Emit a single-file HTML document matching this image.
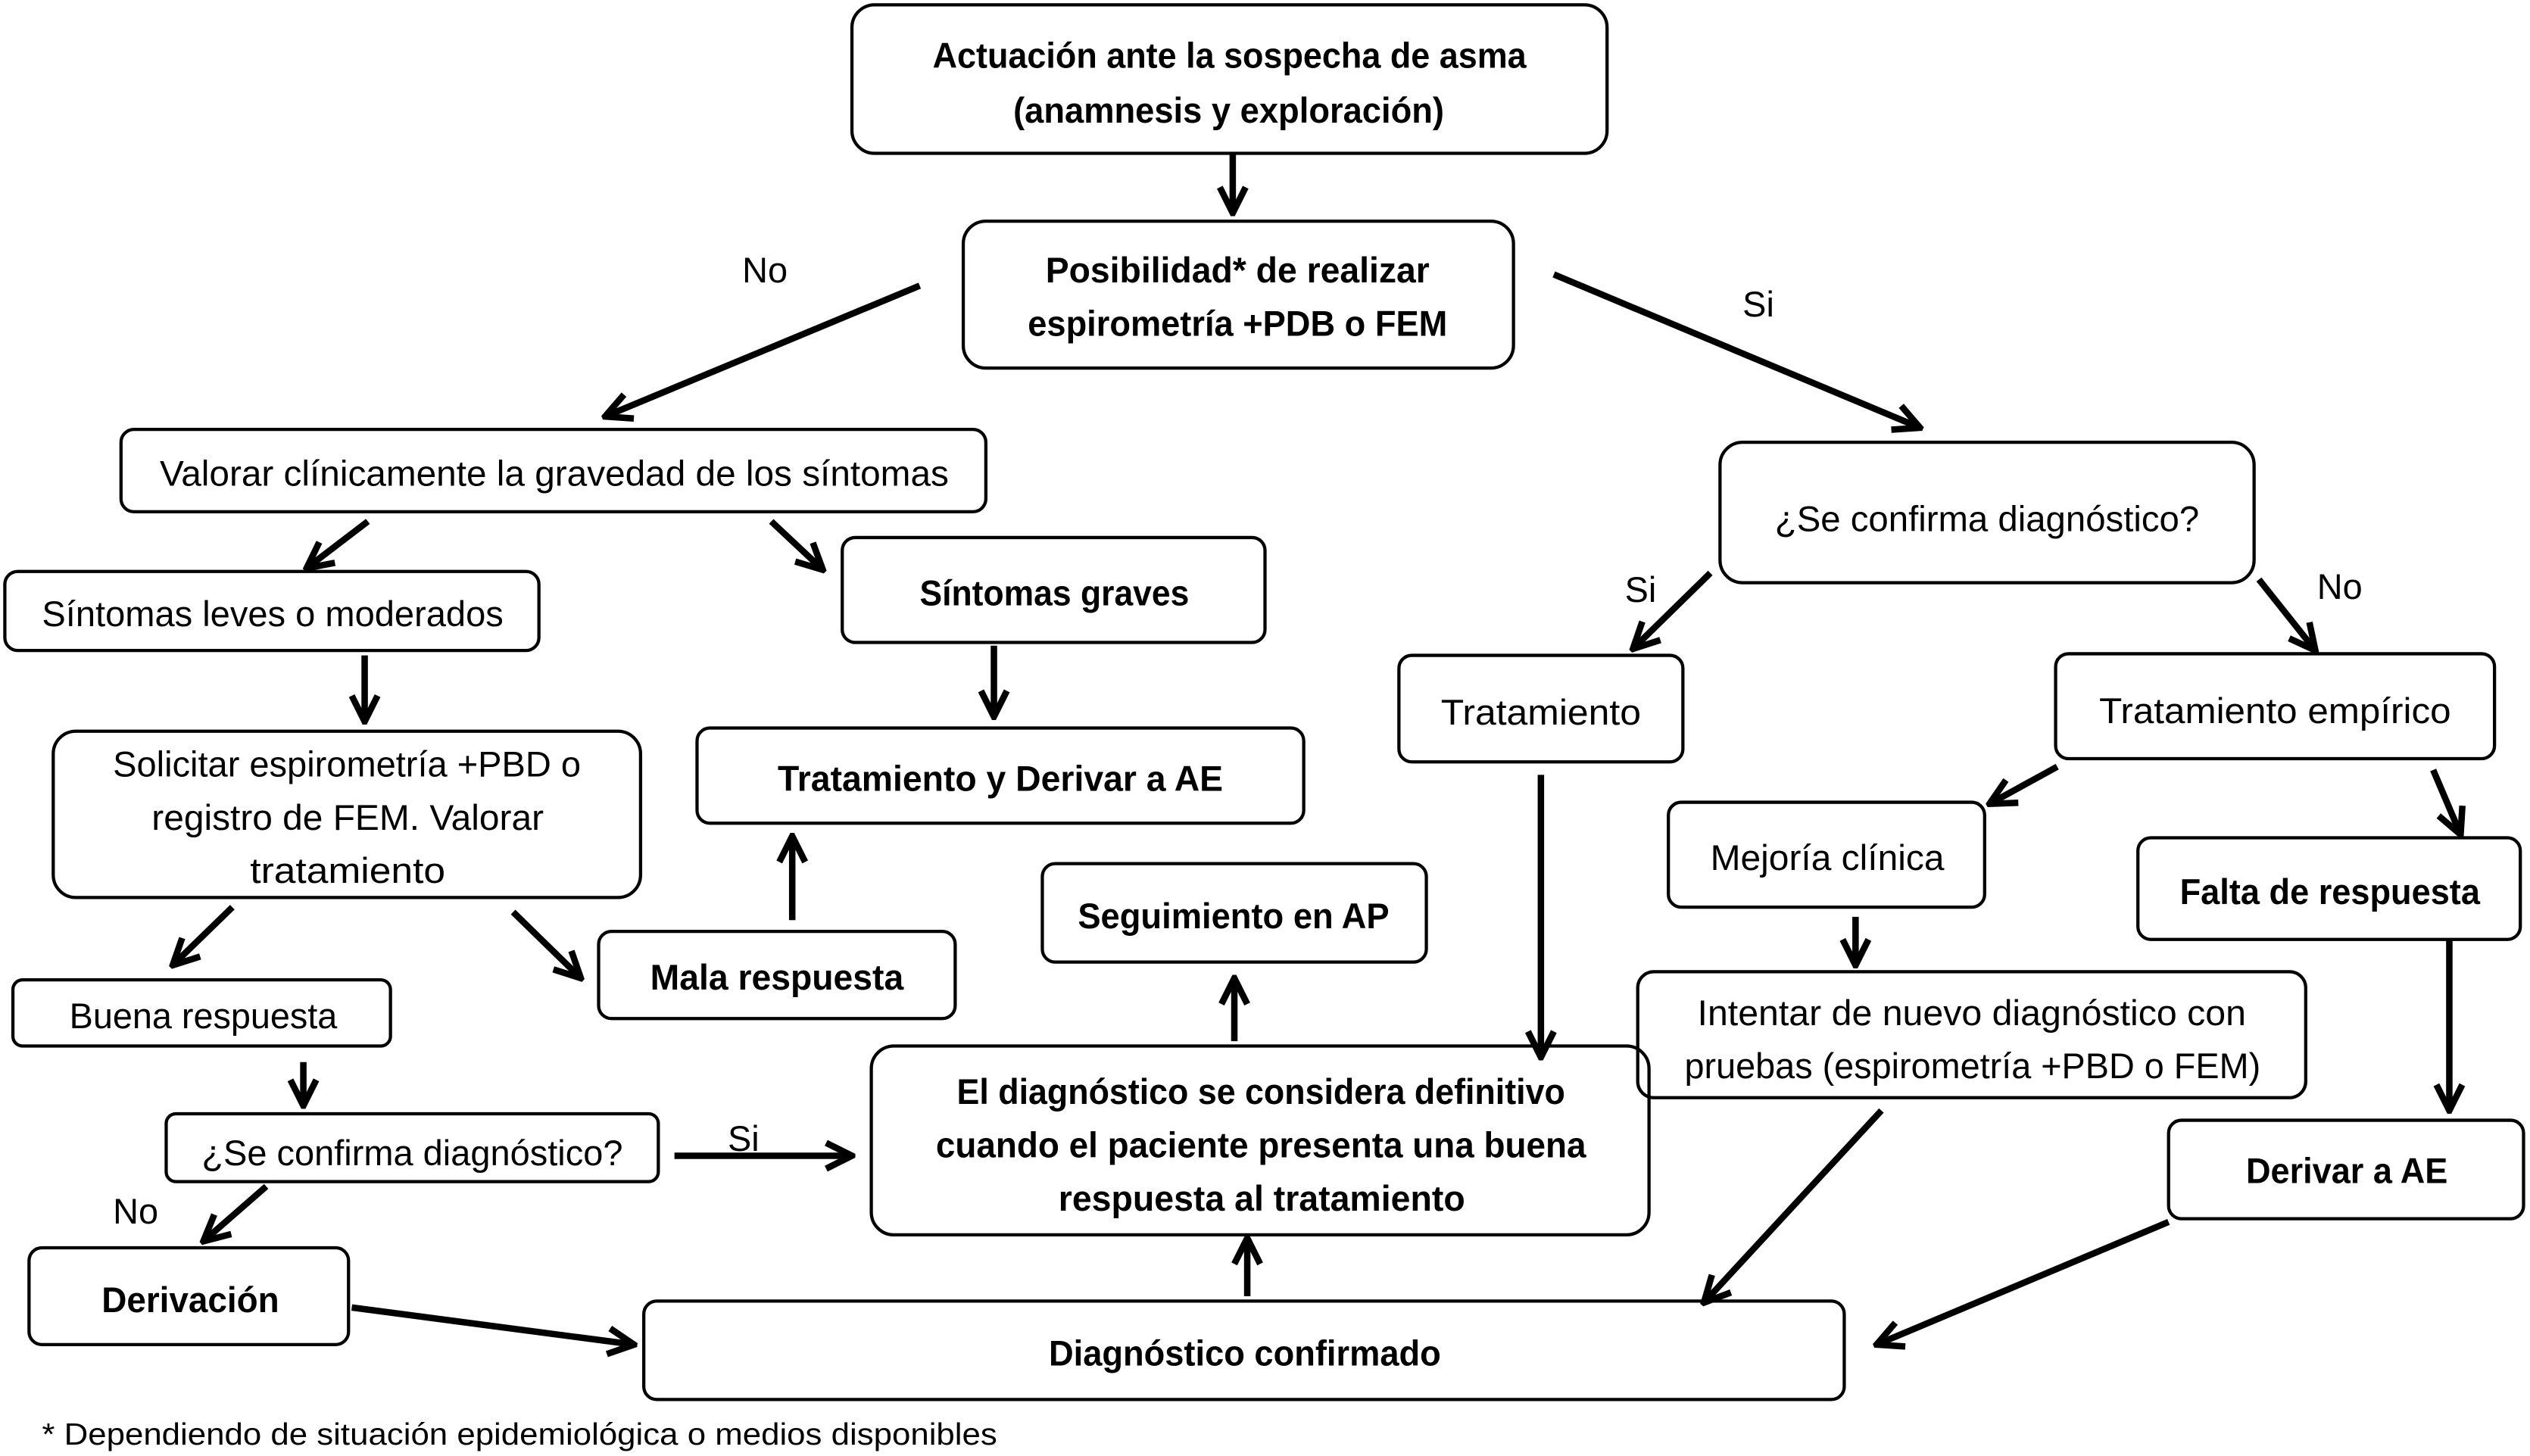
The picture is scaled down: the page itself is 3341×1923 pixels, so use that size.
<!DOCTYPE html>
<html><head><meta charset="utf-8"><style>
html,body{margin:0;padding:0;background:#fff;}
svg{display:block;}
text{font-family:"Liberation Sans",sans-serif;font-size:22px;fill:#000;}
.b{font-weight:bold;}
rect{fill:#fff;stroke:#000;stroke-width:2;}
line{stroke:#000;stroke-width:4;marker-end:url(#ah);}
</style></head><body>
<svg width="3341" height="1923" viewBox="0 0 1568 902" preserveAspectRatio="none" xmlns="http://www.w3.org/2000/svg">
<defs><marker id="ah" viewBox="0 0 10 10" refX="9" refY="5" markerWidth="20" markerHeight="20" markerUnits="userSpaceOnUse" orient="auto"><path d="M1,1 L9,5 L1,9" fill="none" stroke="#000" stroke-width="2"/></marker></defs>
<rect x="528" y="3" width="468" height="92" rx="14"/>
<text class="b" x="578" y="42" textLength="368" lengthAdjust="spacingAndGlyphs">Actuación ante la sospecha de asma</text>
<text class="b" x="628" y="76" textLength="267" lengthAdjust="spacingAndGlyphs">(anamnesis y exploración)</text>
<rect x="597" y="137" width="341" height="91" rx="14"/>
<text class="b" x="648" y="175" textLength="238" lengthAdjust="spacingAndGlyphs">Posibilidad* de realizar</text>
<text class="b" x="637" y="208" textLength="260" lengthAdjust="spacingAndGlyphs">espirometría +PDB o FEM</text>
<rect x="75" y="266" width="536" height="51" rx="8"/>
<text x="99" y="301" textLength="489" lengthAdjust="spacingAndGlyphs">Valorar clínicamente la gravedad de los síntomas</text>
<rect x="1066" y="274" width="331" height="87" rx="14"/>
<text x="1100" y="329" textLength="263" lengthAdjust="spacingAndGlyphs">¿Se confirma diagnóstico?</text>
<rect x="3" y="354" width="331" height="49" rx="8"/>
<text x="26" y="388" textLength="286" lengthAdjust="spacingAndGlyphs">Síntomas leves o moderados</text>
<rect x="522" y="333" width="262" height="65" rx="8"/>
<text class="b" x="570" y="375" textLength="167" lengthAdjust="spacingAndGlyphs">Síntomas graves</text>
<rect x="867" y="406" width="176" height="66" rx="8"/>
<text x="893" y="449" textLength="124" lengthAdjust="spacingAndGlyphs">Tratamiento</text>
<rect x="1274" y="405" width="272" height="65" rx="8"/>
<text x="1301" y="448" textLength="218" lengthAdjust="spacingAndGlyphs">Tratamiento empírico</text>
<rect x="33" y="453" width="364" height="103" rx="14"/>
<text x="70" y="481" textLength="290" lengthAdjust="spacingAndGlyphs">Solicitar espirometría +PBD o</text>
<text x="94" y="514" textLength="243" lengthAdjust="spacingAndGlyphs">registro de FEM. Valorar</text>
<text x="155" y="547" textLength="121" lengthAdjust="spacingAndGlyphs">tratamiento</text>
<rect x="432" y="451" width="376" height="59" rx="8"/>
<text class="b" x="482" y="490" textLength="276" lengthAdjust="spacingAndGlyphs">Tratamiento y Derivar a AE</text>
<rect x="1034" y="497" width="196" height="65" rx="8"/>
<text x="1060" y="539" textLength="145" lengthAdjust="spacingAndGlyphs">Mejoría clínica</text>
<rect x="1325" y="519" width="237" height="63" rx="8"/>
<text class="b" x="1351" y="560" textLength="186" lengthAdjust="spacingAndGlyphs">Falta de respuesta</text>
<rect x="646" y="535" width="238" height="61" rx="8"/>
<text class="b" x="668" y="575" textLength="193" lengthAdjust="spacingAndGlyphs">Seguimiento en AP</text>
<rect x="371" y="577" width="221" height="54" rx="8"/>
<text class="b" x="403" y="613" textLength="157" lengthAdjust="spacingAndGlyphs">Mala respuesta</text>
<rect x="8" y="607" width="234" height="41" rx="6"/>
<text x="43" y="637" textLength="166" lengthAdjust="spacingAndGlyphs">Buena respuesta</text>
<rect x="1015" y="602" width="414" height="78" rx="10"/>
<text x="1052" y="635" textLength="340" lengthAdjust="spacingAndGlyphs">Intentar de nuevo diagnóstico con</text>
<text x="1044" y="668" textLength="357" lengthAdjust="spacingAndGlyphs">pruebas (espirometría +PBD o FEM)</text>
<rect x="540" y="648" width="482" height="117" rx="14" style="fill:none"/>
<text class="b" x="593" y="684" textLength="377" lengthAdjust="spacingAndGlyphs">El diagnóstico se considera definitivo</text>
<text class="b" x="580" y="717" textLength="403" lengthAdjust="spacingAndGlyphs">cuando el paciente presenta una buena</text>
<text class="b" x="656" y="750" textLength="252" lengthAdjust="spacingAndGlyphs">respuesta al tratamiento</text>
<rect x="103" y="690" width="305" height="42" rx="6"/>
<text x="125" y="722" textLength="261" lengthAdjust="spacingAndGlyphs">¿Se confirma diagnóstico?</text>
<rect x="1344" y="694" width="220" height="61" rx="8"/>
<text class="b" x="1392" y="733" textLength="125" lengthAdjust="spacingAndGlyphs">Derivar a AE</text>
<rect x="18" y="773" width="198" height="60" rx="8"/>
<text class="b" x="63" y="813" textLength="110" lengthAdjust="spacingAndGlyphs">Derivación</text>
<rect x="399" y="806" width="744" height="61" rx="8"/>
<text class="b" x="650" y="846" textLength="243" lengthAdjust="spacingAndGlyphs">Diagnóstico confirmado</text>
<text x="26" y="895" style="font-size:19px" textLength="592" lengthAdjust="spacingAndGlyphs">* Dependiendo de situación epidemiológica o medios disponibles</text>
<text x="460" y="175">No</text>
<text x="1080" y="196">Si</text>
<text x="1007" y="373">Si</text>
<text x="1436" y="371">No</text>
<text x="451" y="713">Si</text>
<text x="70" y="758">No</text>
<line x1="764" y1="95" x2="764" y2="132"/>
<line x1="570" y1="177" x2="375" y2="258"/>
<line x1="963" y1="170" x2="1190" y2="265"/>
<line x1="228" y1="323" x2="190" y2="352"/>
<line x1="478" y1="323" x2="510" y2="353"/>
<line x1="1060" y1="355" x2="1012" y2="402"/>
<line x1="1400" y1="359" x2="1435" y2="403"/>
<line x1="226" y1="406" x2="226" y2="447"/>
<line x1="616" y1="400" x2="616" y2="444"/>
<line x1="955" y1="480" x2="955" y2="655"/>
<line x1="1275" y1="475" x2="1233" y2="498"/>
<line x1="1508" y1="477" x2="1525" y2="517"/>
<line x1="144" y1="562" x2="107" y2="598"/>
<line x1="318" y1="565" x2="360" y2="606"/>
<line x1="491" y1="570" x2="491" y2="518"/>
<line x1="1150" y1="568" x2="1150" y2="598"/>
<line x1="1518" y1="582" x2="1518" y2="688"/>
<line x1="765" y1="645" x2="765" y2="606"/>
<line x1="188" y1="658" x2="188" y2="685"/>
<line x1="418" y1="716" x2="528" y2="716"/>
<line x1="165" y1="735" x2="126" y2="769"/>
<line x1="1166" y1="688" x2="1056" y2="807"/>
<line x1="1344" y1="757" x2="1163" y2="833"/>
<line x1="218" y1="810" x2="393" y2="833"/>
<line x1="773" y1="803" x2="773" y2="767"/>
</svg>
</body></html>
